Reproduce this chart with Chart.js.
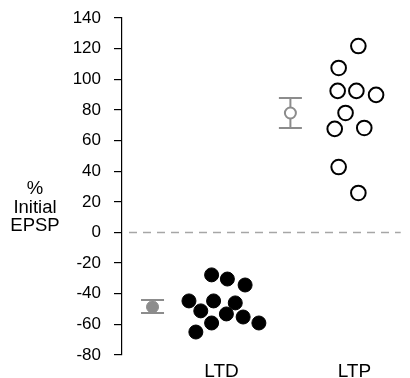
<!DOCTYPE html>
<html>
<head>
<meta charset="utf-8">
<script src="https://cdn.jsdelivr.net/npm/chart.js@4"></script>
<style>
  html, body { margin: 0; padding: 0; background: #fff; }
  #wrap { width: 410px; height: 378px; }
</style>
</head>
<body>
<div id="wrap"><canvas id="grafico"></canvas></div>
<script>
// categorias no eixo x (posicao dos rotulos)
const categorias = ['LTD', 'LTP']
const posCategorias = [0.944, 2.024]

// valores individuais (% EPSP inicial)
const ltdX = [0.864, 0.992, 1.136, 0.68, 0.88, 1.056, 0.776, 0.984, 1.12, 0.864, 1.248, 0.736]
const ltdY = [-27.7, -30.4, -34.3, -44.7, -44.7, -46.0, -51.2, -53.2, -55.2, -59.1, -59.1, -65.0]
const ltpX = [2.056, 1.896, 1.888, 2.04, 2.2, 1.952, 1.864, 2.104, 1.896, 2.056]
const ltpY = [121.7, 107.4, 92.4, 92.4, 89.8, 78.0, 67.6, 68.2, 42.7, 25.8]

// media +- erro
const mediaX = [0.384, 1.504]
const mediaY = [-48.6, 78.0]
const erroBaixo = [-52.5, 68.2]
const erroAlto = [-44.1, 87.8]

const ticksY = [-80, -60, -40, -20, 0, 20, 40, 60, 80, 100, 120, 140]
const tituloY = ['%', 'Initial', 'EPSP']

const fonte = '"Liberation Sans", Arial, Helvetica, sans-serif'
const cinza = '#8c8c8c'

function pontos(xs, ys) {
    let arr = []
    for (let i = 0; i < xs.length; i++) {
        arr.push({ x: xs[i], y: ys[i] })
    }
    return arr
}

// desenha barras de erro, linha tracejada do zero e titulo do eixo y
const extras = {
    id: 'extras',
    beforeDatasetsDraw(chart) {
        const ctx = chart.ctx
        const x = chart.scales.x
        const y = chart.scales.y
        const area = chart.chartArea
        ctx.save()
        // linha do zero
        ctx.strokeStyle = '#a6a6a6'
        ctx.lineWidth = 1.5
        ctx.setLineDash([8, 6])
        ctx.beginPath()
        ctx.moveTo(area.left + 7, y.getPixelForValue(0))
        ctx.lineTo(area.right, y.getPixelForValue(0))
        ctx.stroke()
        ctx.setLineDash([])
        // barras de erro
        ctx.strokeStyle = cinza
        ctx.lineWidth = 2
        for (let i = 0; i < mediaX.length; i++) {
            const px = x.getPixelForValue(mediaX[i])
            const lo = y.getPixelForValue(erroBaixo[i])
            const hi = y.getPixelForValue(erroAlto[i])
            ctx.beginPath()
            ctx.moveTo(px, lo); ctx.lineTo(px, hi)
            ctx.moveTo(px - 11.5, lo); ctx.lineTo(px + 11.5, lo)
            ctx.moveTo(px - 11.5, hi); ctx.lineTo(px + 11.5, hi)
            ctx.stroke()
        }
        // titulo do eixo y
        ctx.fillStyle = '#000'
        ctx.font = '18.5px ' + fonte
        ctx.textAlign = 'center'
        ctx.textBaseline = 'middle'
        for (let i = 0; i < tituloY.length; i++) {
            ctx.fillText(tituloY[i], 35, 189 + i * 18.5)
        }
        ctx.restore()
    }
}

new Chart(document.getElementById('grafico'), {
    type: 'scatter',
    data: {
        datasets: [
            {
                label: 'LTD',
                data: pontos(ltdX, ltdY),
                pointRadius: 7,
                pointHoverRadius: 7,
                backgroundColor: '#000',
                borderColor: '#000',
                borderWidth: 1
            },
            {
                label: 'LTP',
                data: pontos(ltpX, ltpY),
                pointRadius: 7.3,
                pointHoverRadius: 7.3,
                backgroundColor: '#fff',
                borderColor: '#000',
                borderWidth: 2
            },
            {
                label: 'media LTD',
                data: [{ x: mediaX[0], y: mediaY[0] }],
                pointRadius: 6,
                backgroundColor: cinza,
                borderColor: cinza,
                borderWidth: 1
            },
            {
                label: 'media LTP',
                data: [{ x: mediaX[1], y: mediaY[1] }],
                pointRadius: 5.5,
                backgroundColor: '#fff',
                borderColor: cinza,
                borderWidth: 2
            }
        ]
    },
    options: {
        responsive: true,
        maintainAspectRatio: false,
        animation: false,
        clip: false,
        layout: { padding: { top: 18, right: 5, left: 0, bottom: 0 } },
        plugins: {
            legend: { display: false },
            tooltip: { enabled: false }
        },
        scales: {
            x: {
                type: 'linear',
                min: 0.136,
                max: 2.4,
                afterFit(scale) {
                    scale.height = 23
                    scale.paddingLeft = 0
                    scale.paddingRight = 0
                },
                afterBuildTicks(scale) {
                    scale.ticks = posCategorias.map(v => ({ value: v }))
                },
                grid: { display: false, drawTicks: false },
                border: { display: false },
                ticks: {
                    padding: 5,
                    color: '#000',
                    font: { family: fonte, size: 19 },
                    callback: (v) => categorias[posCategorias.indexOf(v)] || ''
                }
            },
            y: {
                min: -80,
                max: 140,
                afterFit(scale) {
                    scale.width = 122
                    scale.paddingTop = 0
                    scale.paddingBottom = 0
                },
                afterBuildTicks(scale) {
                    scale.ticks = ticksY.map(v => ({ value: v }))
                },
                grid: {
                    drawOnChartArea: false,
                    drawTicks: true,
                    tickLength: 8,
                    color: '#000',
                    lineWidth: 1.2
                },
                border: { display: true, color: '#000', width: 1.2 },
                ticks: {
                    padding: 13,
                    color: '#000',
                    font: { family: fonte, size: 17 }
                }
            }
        }
    },
    plugins: [extras]
})
</script>
</body>
</html>
